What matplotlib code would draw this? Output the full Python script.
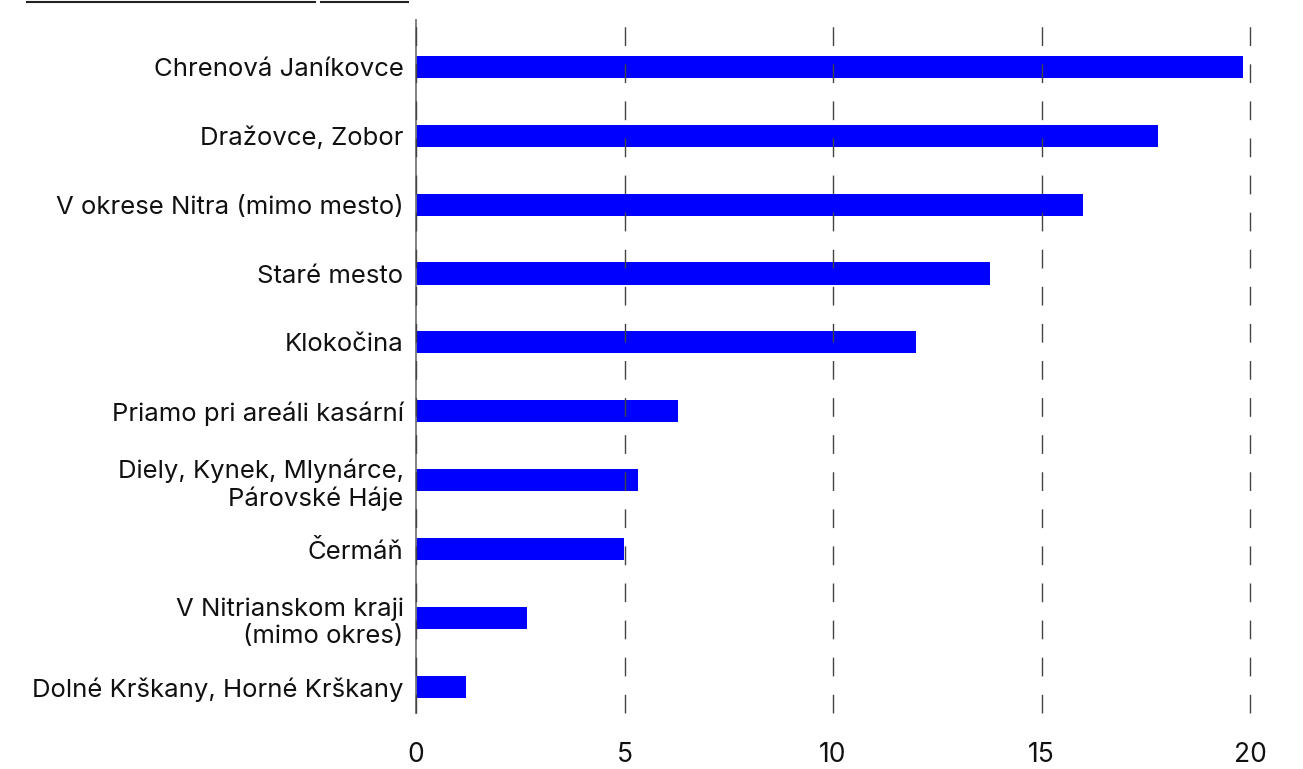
import numpy as np
import matplotlib
matplotlib.use('Agg')
import matplotlib.pyplot as plt
from matplotlib.lines import Line2D

categories = ['Chrenová Janíkovce', 'Dražovce, Zobor', 'V okrese Nitra (mimo mesto)',
              'Staré mesto', 'Klokočina', 'Priamo pri areáli kasární',
              'Diely, Kynek, Mlynárce,\nPárovské Háje', 'Čermáň',
              'V Nitrianskom kraji\n(mimo okres)', 'Dolné Krškany, Horné Krškany']
values = [19.83, 17.8, 16.0, 13.77, 12.0, 6.28, 5.32, 4.99, 2.66, 1.2]
xticks = [0, 5, 10, 15, 20]

plt.rcParams['font.family'] = ['Inter', 'DejaVu Sans']

fig = plt.figure(figsize=(13.03, 7.69), dpi=100)
ax = fig.add_axes([416 / 1303, 1 - 713 / 769, 834 / 1303, 693 / 769])

y = np.arange(len(categories))
ax.barh(y, values, height=0.32, color='#0000ff', zorder=1)

ax.set_xlim(0, 20)
ax.set_ylim(9.38, -0.68)
ax.set_yticks(y)
ax.set_yticklabels(categories, fontsize=18.5, color='#111111', linespacing=1.22)
ax.set_xticks(xticks)
ax.set_xticklabels([str(t) for t in xticks], fontsize=19, color='#111111')
ax.tick_params(axis='y', length=0, pad=9)
ax.tick_params(axis='x', length=0, pad=21)

lw = 1.0
ax.xaxis.grid(True, color='#444444', linewidth=lw, linestyle=(0, (13.5 / lw, 13.2 / lw)), zorder=3)
for gl in ax.get_xgridlines():
    gl.set_clip_on(False)
ax.set_axisbelow(False)
for s in ['top', 'right', 'bottom']:
    ax.spines[s].set_visible(False)
ax.spines['left'].set_color('#777777')
ax.spines['left'].set_linewidth(1.3)

# cropped underline at the top left
fig.add_artist(Line2D([27 / 1303, 315 / 1303], [1 - 1.5 / 769] * 2, color='#222222', linewidth=1.5))
fig.add_artist(Line2D([321 / 1303, 408 / 1303], [1 - 1.5 / 769] * 2, color='#222222', linewidth=1.5))

fig.savefig('out.png', dpi=100)
